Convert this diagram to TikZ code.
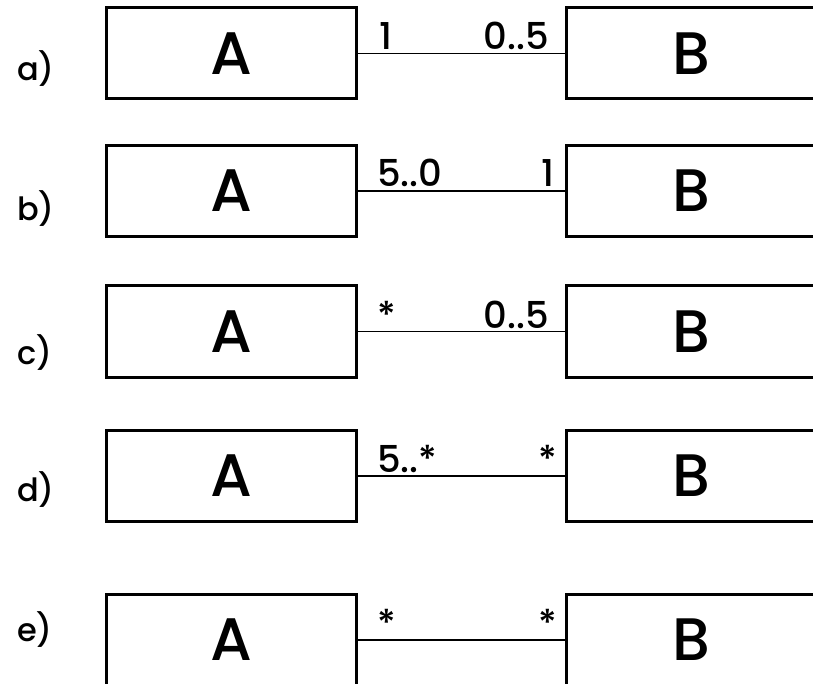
\documentclass[tikz,border=0pt]{standalone}
\usepackage{fontspec}
\setmainfont{Poppins}[UprightFont=* Medium]
\begin{document}
\begin{tikzpicture}[x=1pt,y=-1pt,
  cls/.style={draw=black,line width=3pt,minimum width=250pt,minimum height=91pt,inner sep=0pt,font=\fontsize{60}{62}\selectfont},
  assoc/.style={draw=black,line width=1.8pt},
  mult/.style={inner sep=0pt,font=\fontsize{37}{39}\selectfont},
  rowlab/.style={inner sep=0pt,anchor=base west,font=\fontsize{32}{34}\selectfont}]
\useasboundingbox (0,0) rectangle (813,684);
\clip (0,0) rectangle (813,684);
% row a
\node[cls] (A1) at (231,53.5) {A};
\node[cls] (B1) at (691,53.5) {B};
\draw[assoc] (A1.east) -- (B1.west);
\node[mult,anchor=base west] (m1a) at (379,50) {1};
\node[mult,anchor=base east] (m1b) at (549,50) {0..5};
\node[rowlab] (la) at (17,81) {a)};
% row b
\node[cls] (A2) at (231,191) {A};
\node[cls] (B2) at (691,191) {B};
\draw[assoc] (A2.east) -- (B2.west);
\node[mult,anchor=base west] (m2a) at (377,187) {5..0};
\node[mult,anchor=base east] (m2b) at (555,187) {1};
\node[rowlab] (lb) at (17,221) {b)};
% row c
\node[cls] (A3) at (231,331.5) {A};
\node[cls] (B3) at (691,331.5) {B};
\draw[assoc] (A3.east) -- (B3.west);
\node[mult,anchor=base west] (m3a) at (377,328) {*};
\node[mult,anchor=base east] (m3b) at (549,328) {0..5};
\node[rowlab] (lc) at (17,364) {c)};
% row d
\node[cls] (A4) at (231,476) {A};
\node[cls] (B4) at (691,476) {B};
\draw[assoc] (A4.east) -- (B4.west);
\node[mult,anchor=base west] (m4a) at (377,472) {5..*};
\node[mult,anchor=base east] (m4b) at (557,472) {*};
\node[rowlab] (ld) at (17,501) {d)};
% row e
\node[cls] (A5) at (231,640) {A};
\node[cls] (B5) at (691,640) {B};
\draw[assoc] (A5.east) -- (B5.west);
\node[mult,anchor=base west] (m5a) at (377,636) {*};
\node[mult,anchor=base east] (m5b) at (557,636) {*};
\node[rowlab] (le) at (17,641) {e)};
\end{tikzpicture}
\end{document}
